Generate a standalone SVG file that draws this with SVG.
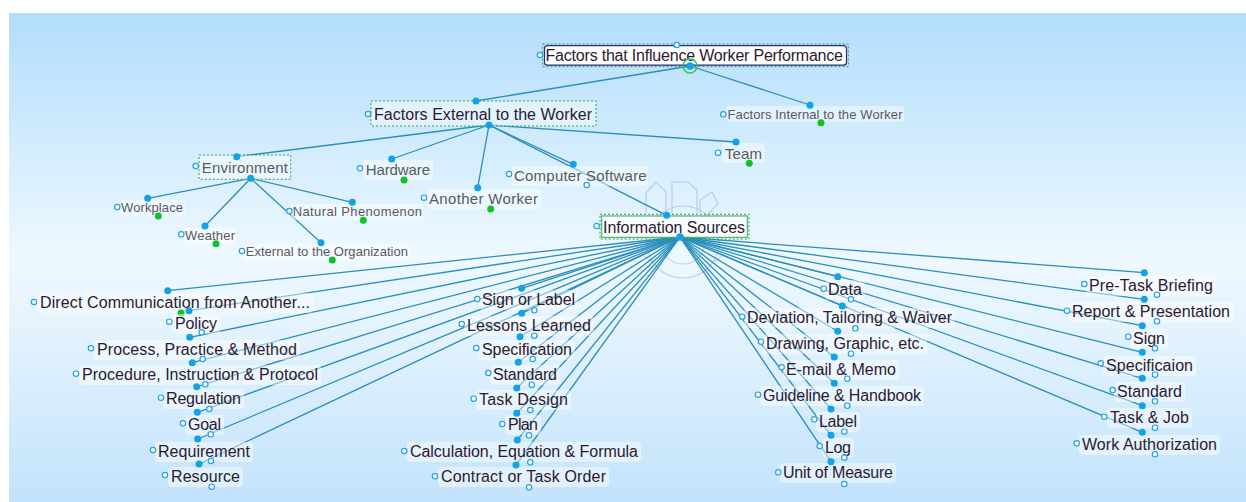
<svg xmlns="http://www.w3.org/2000/svg" width="1246" height="502" viewBox="0 0 1246 502">
<defs>
<linearGradient id="bg" x1="0" y1="0" x2="0" y2="1">
<stop offset="0" stop-color="#b2ddfb"/>
<stop offset="0.5" stop-color="#eef8ff"/>
<stop offset="0.62" stop-color="#e6f4fe"/>
<stop offset="1" stop-color="#c3e3fc"/>
</linearGradient>
<style>
.ln{stroke:#2a8fba;stroke-width:1.3;fill:none}
.dot{fill:#14a2e6}
.gd{fill:#13c02a}
.op{fill:#fff;stroke:#22a3e4;stroke-width:1.2}
.lb{fill:#ffffff;fill-opacity:0.45}
.t{font-family:"Liberation Sans",Arial,sans-serif;font-size:16px;fill:#2c1a30}
.s{font-family:"Liberation Sans",Arial,sans-serif;font-size:15px;fill:#5a5a5e}
.x{font-family:"Liberation Sans",Arial,sans-serif;font-size:13px;fill:#5a5a5e}
.dash{fill:none;stroke:#2fa15a;stroke-width:1;stroke-dasharray:2 2}
.gear{fill:none;stroke:#8fb2ec;stroke-width:1.2;opacity:0.55}
</style>
</defs>
<rect x="0" y="0" width="1246" height="502" fill="#ffffff"/>
<rect x="9" y="13" width="1237" height="489" fill="url(#bg)"/>

<g id="gear-icon">
<circle class="gear" cx="683" cy="242" r="22"/>
<circle class="gear" cx="683" cy="242" r="36"/>
<path class="gear" d="M646,213 V193 L656,182 L666,192 V213"/>
<path class="gear" d="M672,213 V182 H688 L697,190 V213"/>
<path class="gear" d="M700,213 V200 L712,192 L718,204 L708,214"/>
<path class="gear" d="M652,262 L644,256 M714,262 L722,256"/>
</g>

<g id="connectors">
<line class="ln" x1="690" y1="66" x2="476" y2="101"/>
<line class="ln" x1="690" y1="66" x2="810" y2="105"/>
<line class="ln" x1="489" y1="125" x2="236.7" y2="156.7"/>
<line class="ln" x1="489" y1="125" x2="391.7" y2="159"/>
<line class="ln" x1="489" y1="125" x2="477.7" y2="187.7"/>
<line class="ln" x1="489" y1="125" x2="573.3" y2="164.3"/>
<line class="ln" x1="489" y1="125" x2="666.7" y2="215.3"/>
<line class="ln" x1="489" y1="125" x2="736" y2="142"/>
<line class="ln" x1="250.7" y1="178.3" x2="147.7" y2="198.3"/>
<line class="ln" x1="250.7" y1="178.3" x2="205" y2="226"/>
<line class="ln" x1="250.7" y1="178.3" x2="321" y2="242.7"/>
<line class="ln" x1="250.7" y1="178.3" x2="352.3" y2="202.3"/>
<g>
<line class="ln" x1="680" y1="237" x2="167.7" y2="290.7"/>
<line class="ln" x1="680" y1="237" x2="189" y2="310.7"/>
<line class="ln" x1="680" y1="237" x2="189.7" y2="337.3"/>
<line class="ln" x1="680" y1="237" x2="192.3" y2="362.7"/>
<line class="ln" x1="680" y1="237" x2="196.7" y2="386.7"/>
<line class="ln" x1="680" y1="237" x2="197.3" y2="412.3"/>
<line class="ln" x1="680" y1="237" x2="197.7" y2="439"/>
<line class="ln" x1="680" y1="237" x2="199" y2="464"/>
<line class="ln" x1="680" y1="237" x2="521.7" y2="288.3"/>
<line class="ln" x1="680" y1="237" x2="521.7" y2="313.3"/>
<line class="ln" x1="680" y1="237" x2="520" y2="336.7"/>
<line class="ln" x1="680" y1="237" x2="518.3" y2="362.3"/>
<line class="ln" x1="680" y1="237" x2="516.7" y2="388"/>
<line class="ln" x1="680" y1="237" x2="516.7" y2="413.3"/>
<line class="ln" x1="680" y1="237" x2="517.3" y2="440"/>
<line class="ln" x1="680" y1="237" x2="516" y2="465"/>
<line class="ln" x1="680" y1="237" x2="837.7" y2="276.7"/>
<line class="ln" x1="680" y1="237" x2="842.3" y2="306"/>
<line class="ln" x1="680" y1="237" x2="837.7" y2="331.3"/>
<line class="ln" x1="680" y1="237" x2="834.3" y2="357"/>
<line class="ln" x1="680" y1="237" x2="834.3" y2="383.3"/>
<line class="ln" x1="680" y1="237" x2="831" y2="409"/>
<line class="ln" x1="680" y1="237" x2="831" y2="435.3"/>
<line class="ln" x1="680" y1="237" x2="831" y2="461.7"/>
<line class="ln" x1="680" y1="237" x2="1144.3" y2="272.7"/>
<line class="ln" x1="680" y1="237" x2="1144.3" y2="299.3"/>
<line class="ln" x1="680" y1="237" x2="1142.3" y2="325.7"/>
<line class="ln" x1="680" y1="237" x2="1142.3" y2="352.3"/>
<line class="ln" x1="680" y1="237" x2="1142.3" y2="378.3"/>
<line class="ln" x1="680" y1="237" x2="1142.3" y2="405.7"/>
<line class="ln" x1="680" y1="237" x2="1142.3" y2="432.3"/>
</g>
</g>

<g id="n-root">
<rect class="dash" x="542.7" y="44" width="305.6" height="22.7"/>
<rect x="544.5" y="45.7" width="302" height="19.5" rx="3" fill="#ffffff" stroke="#2a2a7a" stroke-width="1.2"/>
<text class="t" x="545.5" y="60.7" font-size="15.5" fill="#1d1426" textLength="297.5" lengthAdjust="spacing">Factors that Influence Worker Performance</text>
<circle class="op" cx="676.7" cy="45" r="2.7"/>
<circle class="op" cx="540" cy="55" r="2.7"/>
<circle cx="690" cy="66" r="7" fill="none" stroke="#33c24a" stroke-width="1.3"/>
<circle class="dot" cx="690" cy="66" r="3.7"/>
</g>

<g id="n-external">
<rect class="lb" x="371" y="101" width="225" height="25"/>
<rect class="dash" x="371" y="101" width="225" height="25"/>
<text class="t" x="374" y="120" font-size="15.5" textLength="218" lengthAdjust="spacing">Factors External to the Worker</text>
<circle class="op" cx="368" cy="114" r="2.7"/>
<circle class="dot" cx="476" cy="101" r="3.5"/>
<circle class="dot" cx="489" cy="125" r="3.5"/>
</g>

<g id="n-internal">
<rect class="lb" x="726" y="106" width="178" height="16" rx="3"/>
<text class="x" x="727.5" y="119.3" textLength="175" lengthAdjust="spacing">Factors Internal to the Worker</text>
<circle class="op" cx="723.3" cy="114.3" r="2.7"/>
<circle class="dot" cx="810" cy="105.3" r="3.5"/>
<circle class="gd" cx="821" cy="122.7" r="3.5"/>
</g>

<g id="n-environment">
<rect class="lb" x="199" y="155" width="91.7" height="24.3"/>
<rect class="dash" x="199" y="155" width="91.7" height="24.3"/>
<text class="s" x="201.7" y="173.3" textLength="86.3" lengthAdjust="spacing">Environment</text>
<circle class="op" cx="195.7" cy="166" r="2.7"/>
<circle class="dot" cx="236.7" cy="156.7" r="3.5"/>
<circle class="dot" cx="250.7" cy="178.3" r="3.5"/>
</g>

<g id="n-hardware">
<rect class="lb" x="363" y="160" width="70" height="20" rx="3"/>
<text class="s" x="365.7" y="175" textLength="64.3" lengthAdjust="spacing">Hardware</text>
<circle class="op" cx="360" cy="168.3" r="2.7"/>
<circle class="dot" cx="391.7" cy="159" r="3.5"/>
<circle class="gd" cx="404" cy="180" r="3.5"/>
</g>

<g id="n-another-worker">
<rect class="lb" x="427" y="189" width="114" height="20" rx="3"/>
<text class="s" x="429" y="204" textLength="109" lengthAdjust="spacing">Another Worker</text>
<circle class="op" cx="424" cy="197.7" r="2.7"/>
<circle class="dot" cx="477.7" cy="187.7" r="3.5"/>
<circle class="gd" cx="490.7" cy="209" r="3.5"/>
</g>

<g id="n-computer-software">
<rect class="lb" x="512" y="166" width="136" height="20" rx="3"/>
<text class="s" x="514" y="180.7" textLength="132.7" lengthAdjust="spacing">Computer Software</text>
<circle class="op" cx="509" cy="174" r="2.7"/>
<circle class="dot" cx="573.3" cy="164.3" r="3.5"/>
<circle class="op" cx="586.7" cy="185" r="2.7"/>
</g>

<g id="n-team">
<rect class="lb" x="722" y="143" width="43" height="20" rx="3"/>
<text class="s" x="725" y="158.5" textLength="37" lengthAdjust="spacing">Team</text>
<circle class="op" cx="718" cy="152.7" r="2.7"/>
<circle class="dot" cx="736" cy="142" r="3.5"/>
<circle class="gd" cx="749.3" cy="163.3" r="3.5"/>
</g>

<g id="n-workplace">
<rect class="lb" x="119" y="200" width="66" height="16" rx="3"/>
<text class="x" x="121" y="211.7" textLength="62" lengthAdjust="spacing">Workplace</text>
<circle class="op" cx="117.3" cy="207" r="2.7"/>
<circle class="dot" cx="147.7" cy="198.3" r="3.5"/>
<circle class="gd" cx="158.3" cy="216" r="3.5"/>
</g>

<g id="n-weather">
<rect class="lb" x="183" y="228" width="54" height="16" rx="3"/>
<text class="x" x="185" y="239.5" textLength="50" lengthAdjust="spacing">Weather</text>
<circle class="op" cx="181.3" cy="234.3" r="2.7"/>
<circle class="dot" cx="205" cy="226" r="3.5"/>
<circle class="gd" cx="216" cy="243.7" r="3.5"/>
</g>

<g id="n-natural-phenomenon">
<rect class="lb" x="291" y="204" width="133" height="16" rx="3"/>
<text class="x" x="292.7" y="216" textLength="129.3" lengthAdjust="spacing">Natural Phenomenon</text>
<circle class="op" cx="289.3" cy="211" r="2.7"/>
<circle class="dot" cx="352.3" cy="202.3" r="3.5"/>
<circle class="gd" cx="363.3" cy="220.3" r="3.5"/>
</g>

<g id="n-external-org">
<rect class="lb" x="244" y="244" width="166" height="16" rx="3"/>
<text class="x" x="245.7" y="255.5" textLength="162.3" lengthAdjust="spacing">External to the Organization</text>
<circle class="op" cx="242" cy="251" r="2.7"/>
<circle class="dot" cx="321" cy="242.7" r="3.5"/>
<circle class="gd" cx="332.3" cy="260" r="3.5"/>
</g>

<g id="n-information-sources">
<rect class="dash" x="600" y="214.3" width="149" height="24.7"/>
<rect x="601.7" y="216" width="145.6" height="21.3" fill="#ffffff" fill-opacity="0.8" stroke="#3aa650" stroke-width="1"/>
<text class="t" x="603" y="232.7" font-size="15.5" textLength="142" lengthAdjust="spacing">Information Sources</text>
<circle class="op" cx="596.7" cy="226" r="2.7"/>
<circle class="dot" cx="666.7" cy="215.3" r="3.5"/>
<circle class="dot" cx="680" cy="237" r="3.7"/>
</g>

<g id="n-direct-communication">
<rect class="lb" x="37" y="293" width="276" height="20" rx="4"/>
<text class="t" x="40" y="308" textLength="270" lengthAdjust="spacing">Direct Communication from Another...</text>
<circle class="op" cx="34" cy="302" r="2.7"/>
<circle class="dot" cx="167.7" cy="290.7" r="3.5"/>
<circle class="gd" cx="181" cy="313" r="3.5"/>
</g>
<g id="n-policy">
<rect class="lb" x="172" y="314" width="48" height="20" rx="4"/>
<text class="t" x="175" y="329" textLength="42" lengthAdjust="spacing">Policy</text>
<circle class="op" cx="169.3" cy="321.7" r="2.7"/>
<circle class="dot" cx="189" cy="310.7" r="3.5"/>
<circle class="op" cx="201.7" cy="332.3" r="2.7"/>
</g>
<g id="n-process">
<rect class="lb" x="94" y="340" width="206" height="20" rx="4"/>
<text class="t" x="97" y="355" textLength="200" lengthAdjust="spacing">Process, Practice &amp; Method</text>
<circle class="op" cx="91" cy="348.3" r="2.7"/>
<circle class="dot" cx="189.7" cy="337.3" r="3.5"/>
<circle class="op" cx="202.7" cy="359" r="2.7"/>
</g>
<g id="n-procedure">
<rect class="lb" x="79" y="365" width="242" height="20" rx="4"/>
<text class="t" x="82" y="380" textLength="236" lengthAdjust="spacing">Procedure, Instruction &amp; Protocol</text>
<circle class="op" cx="76" cy="373.7" r="2.7"/>
<circle class="dot" cx="192.3" cy="362.7" r="3.5"/>
<circle class="op" cx="205.3" cy="384.3" r="2.7"/>
</g>
<g id="n-regulation">
<rect class="lb" x="163" y="389" width="81" height="20" rx="4"/>
<text class="t" x="166" y="404" textLength="75" lengthAdjust="spacing">Regulation</text>
<circle class="op" cx="161" cy="397.7" r="2.7"/>
<circle class="dot" cx="196.7" cy="386.7" r="3.5"/>
<circle class="op" cx="209.3" cy="409" r="2.7"/>
</g>
<g id="n-goal">
<rect class="lb" x="185" y="415" width="39" height="20" rx="4"/>
<text class="t" x="188" y="430" textLength="33" lengthAdjust="spacing">Goal</text>
<circle class="op" cx="183" cy="423.3" r="2.7"/>
<circle class="dot" cx="197.3" cy="412.3" r="3.5"/>
<circle class="op" cx="210.7" cy="434.3" r="2.7"/>
</g>
<g id="n-requirement">
<rect class="lb" x="155" y="442" width="98" height="20" rx="4"/>
<text class="t" x="158" y="457" textLength="92" lengthAdjust="spacing">Requirement</text>
<circle class="op" cx="153" cy="450" r="2.7"/>
<circle class="dot" cx="197.7" cy="439" r="3.5"/>
<circle class="op" cx="211" cy="461" r="2.7"/>
</g>
<g id="n-resource">
<rect class="lb" x="168" y="467" width="75" height="20" rx="4"/>
<text class="t" x="171" y="482" textLength="69" lengthAdjust="spacing">Resource</text>
<circle class="op" cx="165" cy="475" r="2.7"/>
<circle class="dot" cx="199" cy="464" r="3.5"/>
<circle class="op" cx="211.7" cy="486.7" r="2.7"/>
</g>

<g id="n-sign-or-label">
<rect class="lb" x="479" y="290" width="99" height="20" rx="4"/>
<text class="t" x="482" y="305" textLength="93" lengthAdjust="spacing">Sign or Label</text>
<circle class="op" cx="477.3" cy="299" r="2.7"/>
<circle class="dot" cx="521.7" cy="288.3" r="3.5"/>
<circle class="op" cx="534.3" cy="310.3" r="2.7"/>
</g>
<g id="n-lessons-learned">
<rect class="lb" x="464" y="316" width="130" height="20" rx="4"/>
<text class="t" x="467" y="331" textLength="124" lengthAdjust="spacing">Lessons Learned</text>
<circle class="op" cx="461.7" cy="324" r="2.7"/>
<circle class="dot" cx="521.7" cy="313.3" r="3.5"/>
<circle class="op" cx="534.3" cy="335.7" r="2.7"/>
</g>
<g id="n-specification">
<rect class="lb" x="479" y="340" width="96" height="20" rx="4"/>
<text class="t" x="482" y="355" textLength="90" lengthAdjust="spacing">Specification</text>
<circle class="op" cx="476.3" cy="348" r="2.7"/>
<circle class="dot" cx="520" cy="336.7" r="3.5"/>
<circle class="op" cx="532.7" cy="359" r="2.7"/>
</g>
<g id="n-standard-1">
<rect class="lb" x="490" y="365" width="70" height="20" rx="4"/>
<text class="t" x="493" y="380" textLength="64" lengthAdjust="spacing">Standard</text>
<circle class="op" cx="488.3" cy="373" r="2.7"/>
<circle class="dot" cx="518.3" cy="362.3" r="3.5"/>
<circle class="op" cx="531.7" cy="384.7" r="2.7"/>
</g>
<g id="n-task-design">
<rect class="lb" x="476" y="390" width="95" height="20" rx="4"/>
<text class="t" x="479" y="405" textLength="89" lengthAdjust="spacing">Task Design</text>
<circle class="op" cx="473.7" cy="398.7" r="2.7"/>
<circle class="dot" cx="516.7" cy="388" r="3.5"/>
<circle class="op" cx="530.3" cy="410" r="2.7"/>
</g>
<g id="n-plan">
<rect class="lb" x="505" y="415" width="36" height="20" rx="4"/>
<text class="t" x="508" y="430" textLength="30" lengthAdjust="spacing">Plan</text>
<circle class="op" cx="502.3" cy="424" r="2.7"/>
<circle class="dot" cx="516.7" cy="413.3" r="3.5"/>
<circle class="op" cx="529" cy="435.3" r="2.7"/>
</g>
<g id="n-calculation">
<rect class="lb" x="407" y="442" width="234" height="20" rx="4"/>
<text class="t" x="410" y="457" textLength="228" lengthAdjust="spacing">Calculation, Equation &amp; Formula</text>
<circle class="op" cx="404.3" cy="451" r="2.7"/>
<circle class="dot" cx="517.3" cy="440" r="3.5"/>
<circle class="op" cx="530.3" cy="462.3" r="2.7"/>
</g>
<g id="n-contract">
<rect class="lb" x="438" y="467" width="171" height="20" rx="4"/>
<text class="t" x="441" y="482" textLength="165" lengthAdjust="spacing">Contract or Task Order</text>
<circle class="op" cx="435" cy="476.3" r="2.7"/>
<circle class="dot" cx="516" cy="465" r="3.5"/>
<circle class="op" cx="529" cy="487.3" r="2.7"/>
</g>

<g id="n-data">
<rect class="lb" x="825" y="280" width="40" height="20" rx="4"/>
<text class="t" x="828" y="295" textLength="34" lengthAdjust="spacing">Data</text>
<circle class="op" cx="823.7" cy="288.7" r="2.7"/>
<circle class="dot" cx="837.7" cy="276.7" r="3.5"/>
<circle class="op" cx="851" cy="299.3" r="2.7"/>
</g>
<g id="n-deviation">
<rect class="lb" x="744" y="308" width="211" height="20" rx="4"/>
<text class="t" x="747" y="323" textLength="205" lengthAdjust="spacing">Deviation, Tailoring &amp; Waiver</text>
<circle class="op" cx="742.3" cy="316.7" r="2.7"/>
<circle class="dot" cx="842.3" cy="306" r="3.5"/>
<circle class="op" cx="855.3" cy="328.3" r="2.7"/>
</g>
<g id="n-drawing">
<rect class="lb" x="763" y="334" width="164" height="20" rx="4"/>
<text class="t" x="766" y="349" textLength="158" lengthAdjust="spacing">Drawing, Graphic, etc.</text>
<circle class="op" cx="761" cy="341.7" r="2.7"/>
<circle class="dot" cx="837.7" cy="331.3" r="3.5"/>
<circle class="op" cx="851" cy="353.7" r="2.7"/>
</g>
<g id="n-email">
<rect class="lb" x="783" y="360" width="116" height="20" rx="4"/>
<text class="t" x="786" y="375" textLength="110" lengthAdjust="spacing">E-mail &amp; Memo</text>
<circle class="op" cx="781.7" cy="367.3" r="2.7"/>
<circle class="dot" cx="834.3" cy="357" r="3.5"/>
<circle class="op" cx="847.3" cy="378.7" r="2.7"/>
</g>
<g id="n-guideline">
<rect class="lb" x="760" y="386" width="164" height="20" rx="4"/>
<text class="t" x="763" y="401" textLength="158" lengthAdjust="spacing">Guideline &amp; Handbook</text>
<circle class="op" cx="758" cy="394.7" r="2.7"/>
<circle class="dot" cx="834.3" cy="383.3" r="3.5"/>
<circle class="op" cx="847.3" cy="405.7" r="2.7"/>
</g>
<g id="n-label">
<rect class="lb" x="816" y="412" width="44" height="20" rx="4"/>
<text class="t" x="819" y="427" textLength="38" lengthAdjust="spacing">Label</text>
<circle class="op" cx="814.3" cy="419.3" r="2.7"/>
<circle class="dot" cx="831" cy="409" r="3.5"/>
<circle class="op" cx="844.3" cy="431.7" r="2.7"/>
</g>
<g id="n-log">
<rect class="lb" x="822" y="438" width="32" height="20" rx="4"/>
<text class="t" x="825" y="453" textLength="26" lengthAdjust="spacing">Log</text>
<circle class="op" cx="819.7" cy="446" r="2.7"/>
<circle class="dot" cx="831" cy="435.3" r="3.5"/>
<circle class="op" cx="844.3" cy="457.7" r="2.7"/>
</g>
<g id="n-unit-of-measure">
<rect class="lb" x="780" y="463" width="116" height="20" rx="4"/>
<text class="t" x="783" y="478" textLength="110" lengthAdjust="spacing">Unit of Measure</text>
<circle class="op" cx="778.3" cy="472.3" r="2.7"/>
<circle class="dot" cx="831" cy="461.7" r="3.5"/>
<circle class="op" cx="844.3" cy="484" r="2.7"/>
</g>

<g id="n-pre-task-briefing">
<rect class="lb" x="1086" y="276" width="130" height="20" rx="4"/>
<text class="t" x="1089" y="291" textLength="124" lengthAdjust="spacing">Pre-Task Briefing</text>
<circle class="op" cx="1084.3" cy="284" r="2.7"/>
<circle class="dot" cx="1144.3" cy="272.7" r="3.5"/>
<circle class="op" cx="1157" cy="294.7" r="2.7"/>
</g>
<g id="n-report">
<rect class="lb" x="1069" y="302" width="164" height="20" rx="4"/>
<text class="t" x="1072" y="317" textLength="158" lengthAdjust="spacing">Report &amp; Presentation</text>
<circle class="op" cx="1067" cy="310.7" r="2.7"/>
<circle class="dot" cx="1144.3" cy="299.3" r="3.5"/>
<circle class="op" cx="1157" cy="321.3" r="2.7"/>
</g>
<g id="n-sign">
<rect class="lb" x="1130" y="329" width="38" height="20" rx="4"/>
<text class="t" x="1133" y="344" textLength="32" lengthAdjust="spacing">Sign</text>
<circle class="op" cx="1128.3" cy="336.7" r="2.7"/>
<circle class="dot" cx="1142.3" cy="325.7" r="3.5"/>
<circle class="op" cx="1155" cy="348.3" r="2.7"/>
</g>
<g id="n-specificaion">
<rect class="lb" x="1103" y="356" width="93" height="20" rx="4"/>
<text class="t" x="1106" y="371" textLength="87" lengthAdjust="spacing">Specificaion</text>
<circle class="op" cx="1100.7" cy="363.3" r="2.7"/>
<circle class="dot" cx="1142.3" cy="352.3" r="3.5"/>
<circle class="op" cx="1155" cy="374.7" r="2.7"/>
</g>
<g id="n-standard-2">
<rect class="lb" x="1114" y="382" width="71" height="20" rx="4"/>
<text class="t" x="1117" y="397" textLength="65" lengthAdjust="spacing">Standard</text>
<circle class="op" cx="1112.7" cy="390" r="2.7"/>
<circle class="dot" cx="1142.3" cy="378.3" r="3.5"/>
<circle class="op" cx="1155" cy="401.3" r="2.7"/>
</g>
<g id="n-task-job">
<rect class="lb" x="1107" y="408" width="85" height="20" rx="4"/>
<text class="t" x="1110" y="423" textLength="79" lengthAdjust="spacing">Task &amp; Job</text>
<circle class="op" cx="1104.3" cy="416.7" r="2.7"/>
<circle class="dot" cx="1142.3" cy="405.7" r="3.5"/>
<circle class="op" cx="1155" cy="427.7" r="2.7"/>
</g>
<g id="n-work-authorization">
<rect class="lb" x="1079" y="435" width="141" height="20" rx="4"/>
<text class="t" x="1082" y="450" textLength="135" lengthAdjust="spacing">Work Authorization</text>
<circle class="op" cx="1076.7" cy="443.3" r="2.7"/>
<circle class="dot" cx="1142.3" cy="432.3" r="3.5"/>
<circle class="op" cx="1155" cy="454.3" r="2.7"/>
</g>
</svg>
